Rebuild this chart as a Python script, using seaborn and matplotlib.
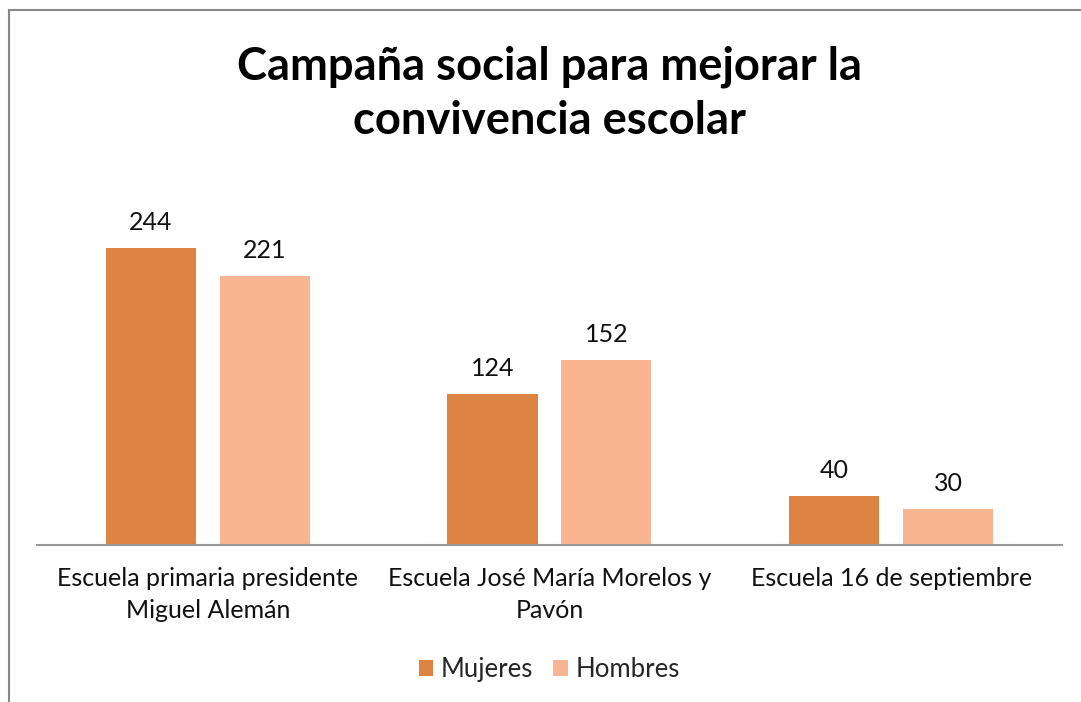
import pandas as pd
import seaborn as sns
import matplotlib.pyplot as plt
from matplotlib.lines import Line2D

# chart data
escuelas = ['Escuela primaria presidente\nMiguel Alemán',
            'Escuela José María Morelos y\nPavón',
            'Escuela 16 de septiembre']
mujeres = [244, 124, 40]
hombres = [221, 152, 30]
series = ['Mujeres', 'Hombres']
colores = ['#DD8343', '#F9B591']

df = pd.DataFrame({
    'escuela': escuelas * 2,
    'valor': mujeres + hombres,
    'sexo': [series[0]] * 3 + [series[1]] * 3,
})

sns.set_style('white')
plt.rcParams['font.family'] = ['Lato', 'DejaVu Sans']

fig = plt.figure(figsize=(10.81, 7.02), dpi=100)
ax = fig.add_axes([0.0342, 0.2236, 0.9482, 0.52])

sns.barplot(data=df, x='escuela', y='valor', hue='sexo', hue_order=series,
            palette=colores, width=0.667, gap=0.21, saturation=1,
            edgecolor='none', ax=ax)

for c in ax.containers:
    ax.bar_label(c, padding=10, fontsize=18, color='#111111')

ax.set_ylim(0, 300)
ax.set_xlim(-0.5, 2.5)
ax.set_xlabel('')
ax.set_ylabel('')
ax.set_yticks([])
ax.tick_params(axis='x', length=0, pad=16, labelsize=18, labelcolor='#111111')
for lbl in ax.get_xticklabels():
    lbl.set_linespacing(1.45)
for s in ['top', 'right', 'left']:
    ax.spines[s].set_visible(False)
ax.spines['bottom'].set_color('#9a9a9a')
ax.spines['bottom'].set_linewidth(1.5)

fig.text(0.508, 0.866, 'Campaña social para mejorar la\nconvivencia escolar',
         ha='center', va='center', fontsize=32.7, fontweight='bold',
         linespacing=1.36, color='#000000')

leg = ax.legend(loc='center', bbox_to_anchor=(0.508, 0.046),
                bbox_transform=fig.transFigure, ncol=2, frameon=False,
                fontsize=18.5, handlelength=0.55, handleheight=0.55,
                handletextpad=0.3, columnspacing=0.8)

# outer chart border (left and top)
fig.add_artist(Line2D([0.0083, 0.0083], [0.0, 0.986], color='#878787',
                      linewidth=1.5, transform=fig.transFigure))
fig.add_artist(Line2D([0.0083, 1.0], [0.986, 0.986], color='#878787',
                      linewidth=1.5, transform=fig.transFigure))

fig.savefig('out.png', dpi=100)
